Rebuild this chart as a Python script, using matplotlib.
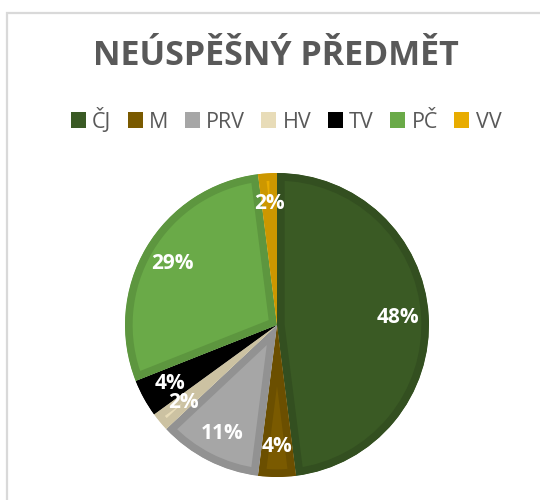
import matplotlib
matplotlib.use("Agg")
import matplotlib.pyplot as plt
from matplotlib.patches import Patch, Rectangle
import matplotlib.colors as mcolors
import numpy as np

categories = ["ČJ", "M", "PRV", "HV", "TV", "PČ", "VV"]
values = [48, 4, 11, 2, 4, 29, 2]
colors = ["#3a5a24", "#7a5a00", "#a6a6a6", "#e8dcb8", "#000000", "#6aaa48", "#e8ac00"]
title = "NEÚSPĚŠNÝ PŘEDMĚT"

plt.rcParams['font.family'] = ['Open Sans', 'DejaVu Sans']

W, H = 540, 500
fig = plt.figure(figsize=(W / 100, H / 100), dpi=100)
fig.patch.set_facecolor("white")

# chart-area frame (extends past right/bottom edges)
fig.patches.append(Rectangle((6.5 / W, -0.1), 1.2, 1 - 12.5 / H + 0.1,
                             transform=fig.transFigure, fill=False,
                             edgecolor="#d9d9d9", linewidth=1.6))

fig.text(276 / W, 1 - 56 / H, title, ha="center", va="center",
         fontsize=24.5, fontweight="bold", color="#595959")

cx, cy, r = 277, 500 - 325, 152
ax = fig.add_axes([(cx - r) / W, (cy - r) / H, 2 * r / W, 2 * r / H])
wedges, texts, autotexts = ax.pie(
    values, colors=colors, startangle=90, counterclock=False,
    autopct=lambda p: f"{p:.0f}%", pctdistance=0.8, radius=1.0,
    textprops=dict(color="white", fontsize=15, fontweight="bold"))
for w, c in zip(wedges, colors):
    rgb = np.array(mcolors.to_rgb(c))
    w.set_edgecolor(tuple(rgb * 0.88))
    w.set_linewidth(11)
    w.set_joinstyle("round")
    w.set_clip_on(True)
    w.set_clip_path(w)
ax.set_xlim(-1, 1)
ax.set_ylim(-1, 1)

handles = [Patch(facecolor=c, edgecolor="none") for c in colors]
fig.legend(handles, categories, ncol=len(categories), loc="center",
           bbox_to_anchor=(286 / W, 1 - 120 / H), frameon=False,
           handlelength=0.7, handleheight=0.7, handletextpad=0.3,
           columnspacing=0.75, fontsize=15.5, labelcolor="#595959")

fig.savefig("out.png", dpi=100, facecolor="white")
